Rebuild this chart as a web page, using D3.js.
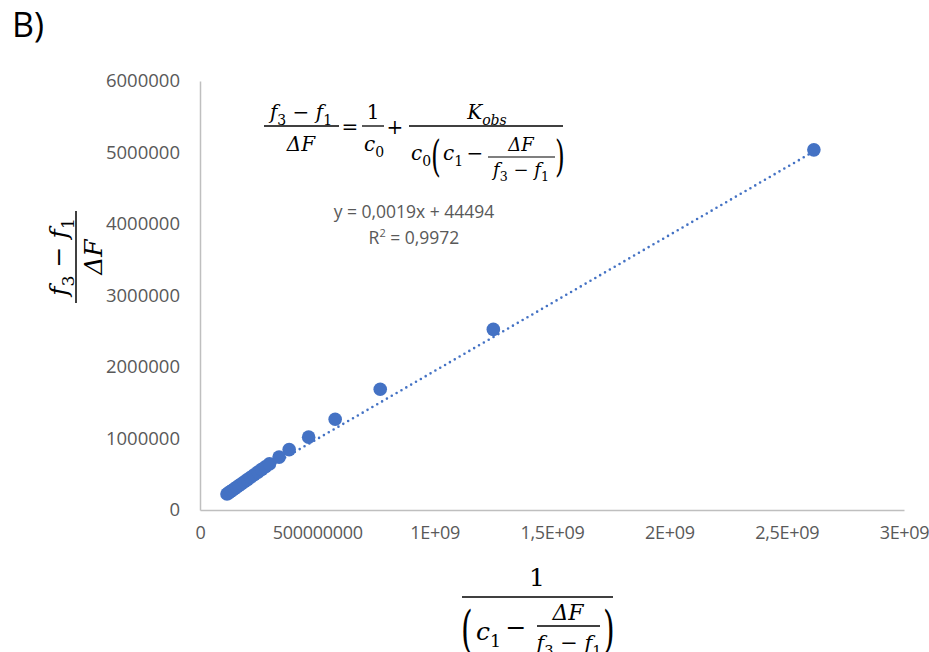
<!DOCTYPE html>
<html><head><meta charset="utf-8">
<script src="https://cdn.jsdelivr.net/npm/d3@7/dist/d3.min.js"></script>
<style>body{margin:0;background:#fff}svg{display:block}</style>
</head><body>
<svg id="c" width="929" height="652"></svg>
<script>
// ---- data ----
const xValues = [0.115e9,0.122e9,0.130e9,0.138e9,0.147e9,0.156e9,0.166e9,0.177e9,0.189e9,0.202e9,0.216e9,0.231e9,0.247e9,0.263e9,0.279e9,0.296e9,
                 0.337e9,0.380e9,0.463e9,0.576e9,0.768e9,1.250e9,2.616e9];
const yValues = [0.223e6,0.240e6,0.258e6,0.277e6,0.297e6,0.318e6,0.342e6,0.368e6,0.395e6,0.425e6,0.458e6,0.493e6,0.530e6,0.568e6,0.604e6,0.645e6,
                 0.740e6,0.845e6,1.019e6,1.270e6,1.688e6,2.526e6,5.037e6];
const trendSlope = 0.0019, trendIntercept = 44494;
const xTicks = [0,5e8,1e9,1.5e9,2e9,2.5e9,3e9];
const xTickLabels = ["0","500000000","1E+09","1,5E+09","2E+09","2,5E+09","3E+09"];
const yTicks = [0,1e6,2e6,3e6,4e6,5e6,6e6];
const yTickLabels = ["0","1000000","2000000","3000000","4000000","5000000","6000000"];
const eqLine1 = "y = 0,0019x + 44494";
const eqLine2 = ["R", "2", " = 0,9972"];

// ---- chart ----
const svg = d3.select("#c");
const blue = "#4472C4", grey = "#595959", axisCol = "#BFBFBF";
const x = d3.scaleLinear().domain([0,3e9]).range([200,904]);
const y = d3.scaleLinear().domain([0,6e6]).range([510,81]);
const tickFont = "'Open Sans', 'Noto Sans', sans-serif";
const mathFont = "'DejaVu Serif', 'Liberation Serif', serif";

svg.append("text").attr("x",12).attr("y",37).attr("font-family",tickFont).attr("font-size",34).attr("fill","#000").text("B)");

// axes
const xa = svg.append("g").attr("transform",`translate(0,${y(0)})`)
  .call(d3.axisBottom(x).tickValues(xTicks).tickFormat((d,i)=>xTickLabels[i]).tickSize(0).tickPadding(16));
xa.select(".domain").attr("stroke",axisCol).attr("stroke-width",1.5);
xa.selectAll("text").attr("font-family",tickFont).attr("font-size",18).attr("letter-spacing",-0.3).attr("fill",grey);
const ya = svg.append("g").attr("transform",`translate(${x(0)},0)`)
  .call(d3.axisLeft(y).tickValues(yTicks).tickFormat((d,i)=>yTickLabels[i]).tickSize(0).tickPadding(20));
ya.select(".domain").attr("stroke",axisCol).attr("stroke-width",1.5);
ya.selectAll("text").attr("font-family",tickFont).attr("font-size",18.5).attr("fill",grey);

// trendline
const xmin = d3.min(xValues), xmax = d3.max(xValues);
svg.append("line").attr("x1",x(xmin)).attr("y1",y(trendSlope*xmin+trendIntercept))
  .attr("x2",x(xmax)).attr("y2",y(trendSlope*xmax+trendIntercept))
  .attr("stroke",blue).attr("stroke-width",2.6).attr("stroke-dasharray","0,5.6").attr("stroke-linecap","round");

// points
svg.append("g").selectAll("circle").data(xValues).join("circle")
  .attr("cx",d=>x(d)).attr("cy",(d,i)=>y(yValues[i])).attr("r",6.8).attr("fill",blue);

// trend label
svg.append("text").attr("x",414).attr("y",218).attr("text-anchor","middle")
  .attr("font-family",tickFont).attr("font-size",17.5).attr("fill",grey).text(eqLine1);
const r2 = svg.append("text").attr("x",414).attr("y",244).attr("text-anchor","middle")
  .attr("font-family",tickFont).attr("font-size",17.5).attr("fill",grey);
r2.append("tspan").text(eqLine2[0]);
r2.append("tspan").attr("font-size",11).attr("dy",-7).text(eqLine2[1]);
r2.append("tspan").attr("dy",7).text(eqLine2[2]);

// ---- math helpers ----
function mtext(g, px, py, size, parts, anchor){
  const t = g.append("text").attr("x",px).attr("y",py).attr("font-family",mathFont)
    .attr("font-size",size).attr("fill","#000").attr("text-anchor",anchor||"middle");
  let sub=false;
  parts.forEach(([s,tp])=>{
    const ts = t.append("tspan").text(s);
    const isSub = tp==='s'||tp==='si';
    if(tp==='i'||tp==='si') ts.attr("font-style","italic");
    if(isSub){ ts.attr("font-size",size*0.7); if(!sub) ts.attr("dy",size*0.28); }
    else if(sub){ ts.attr("dy",-size*0.28); }
    sub=isSub;
  });
  return t;
}
function paren(g, px, py, size, ch, sx){
  g.append("text").attr("transform",`translate(${px},${py}) scale(${sx},1)`)
    .attr("font-family",mathFont).attr("font-size",size).attr("fill","#000").text(ch);
}
function bar(g,x1,x2,yy,w){ g.append("line").attr("x1",x1).attr("x2",x2).attr("y1",yy).attr("y2",yy).attr("stroke","#000").attr("stroke-width",w||1.3); }
const fdiff = [["f","i"],["3","s"],[" − ","r"],["f","i"],["1","s"]];

// top formula
const eq = svg.append("g");
mtext(eq,301,119,20,fdiff);
bar(eq,264,339,126);
mtext(eq,301,151,20,[["ΔF","i"]]);
mtext(eq,350,134,20,[["=","r"]]);
mtext(eq,373,119,20,[["1","r"]]);
bar(eq,362,384,126);
mtext(eq,374,151,20,[["c","i"],["0","s"]]);
mtext(eq,395,134,20,[["+","r"]]);
mtext(eq,487,119,20,[["K","i"],["obs","si"]]);
bar(eq,409,563,126);
mtext(eq,411,160,20,[["c","i"],["0","s"]],"start");
paren(eq,431,171,42,"(",0.6);
mtext(eq,443,160,20,[["c","i"],["1","s"]],"start");
mtext(eq,475,160,20,[["−","r"]]);
mtext(eq,521,151,18,[["ΔF","i"]]);
bar(eq,488,555,157,1.1);
mtext(eq,521,176,18,fdiff);
paren(eq,555,171,42,")",0.6);

// y title (rotated)
const yt = svg.append("g").attr("transform","translate(76,257) rotate(-90)");
mtext(yt,0,-9,25,fdiff);
bar(yt,-46,46,0,1.5);
mtext(yt,0,26,25,[["ΔF","i"]]);

// x title
const xt = svg.append("g");
mtext(xt,537,586,25,[["1","r"]]);
bar(xt,462,613,597,1.5);
paren(xt,461,647,50,"(",0.6);
mtext(xt,476,640,25,[["c","i"],["1","s"]],"start");
mtext(xt,516,636,25,[["−","r"]]);
mtext(xt,568,620,22,[["ΔF","i"]]);
bar(xt,537,600,626,1.3);
mtext(xt,569,650,21,fdiff);
paren(xt,603,647,50,")",0.6);
</script>
</body></html>
